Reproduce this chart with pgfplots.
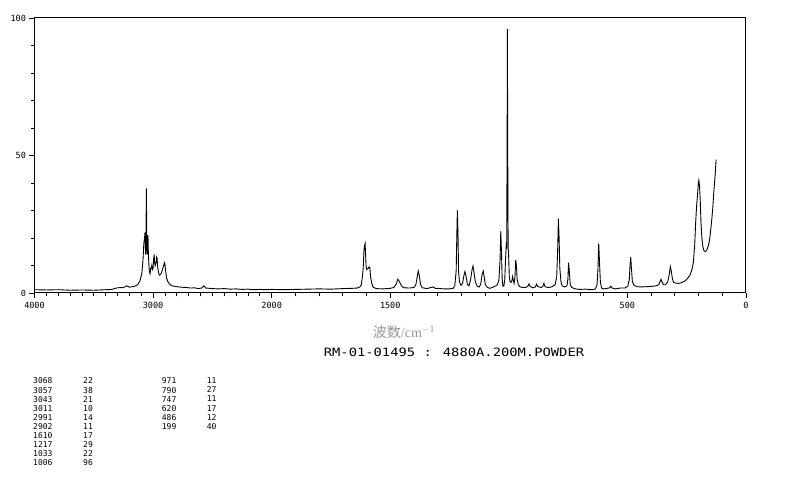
\documentclass[border=0pt]{standalone}
\usepackage{pgfplots}
\pgfplotsset{compat=1.18}
\usepackage{fontspec}
\setmainfont{Liberation Serif}
\newfontfamily\dotfont{DejaVu Sans Mono}
\newfontfamily\titlefont[FakeStretch=1.2]{DejaVu Sans Mono}
\newfontfamily\cjk{Noto Sans CJK SC}
\definecolor{labelgray}{RGB}{150,150,150}
\begin{document}
\begin{tikzpicture}
\path[use as bounding box] (0,0) rectangle (794bp,482bp);
\begin{axis}[
  at={(34.5bp,189bp)}, anchor=south west,
  scale only axis, width=711.5bp, height=275bp,
  x coord trafo/.code={\pgfmathparse{#1>2000 ? 1000+0.5*#1 : #1}},
  x dir=reverse,
  xmin=0, xmax=4000, ymin=0, ymax=100,
  xtick={0,500,1500,2000,3000,4000},
  xticklabels={0,500,1500,2000,3000,4000},
  minor xtick={100,200,300,400,600,700,800,900,1000,1100,1200,1300,1400,1600,1700,1800,1900,2100,2200,2300,2400,2500,2600,2700,2800,2900,3100,3200,3300,3400,3500,3600,3700,3800,3900},
  ytick={0,50,100},
  yticklabels={0,50,100},
  minor ytick={10,20,30,40,60,70,80,90},
  tick align=outside, tick pos=left,
  major tick length=5bp, minor tick length=3.5bp,
  every tick/.style={black, line width=0.7bp},
  axis line style={black, line width=1bp},
  tick label style={font=\dotfont\fontsize{8.5bp}{9bp}\selectfont},
  xticklabel style={yshift=-1bp},
  clip=false,
]
\addplot[black, line width=0.9bp] coordinates {
(4000,1.2) (3900,1.1) (3800,1.2) (3700,1.0) (3600,1.1) (3500,1.0) (3400,1.2) (3350,1.3)
(3300,1.9) (3250,2.0) (3220,2.6) (3200,2.1) (3160,2.4) (3130,3.0) (3110,4.5) (3095,7)
(3085,12) (3078,18) (3072,20) (3068,22) (3065,17) (3062,14) (3059,20) (3057,38) (3055,30)
(3052,16) (3049,14) (3046,18) (3043,21) (3040,15) (3036,11) (3032,8) (3026,7) (3020,9)
(3016,9) (3011,10) (3006,8.5) (3000,9) (2996,12) (2991,14) (2987,11) (2982,10) (2975,11)
(2970,13) (2966,12.5) (2960,9) (2952,7) (2944,6.5) (2936,6.8) (2928,7.5) (2918,9) (2910,10)
(2904,11) (2900,10.5) (2894,8) (2886,5.5) (2876,4.2) (2860,3.2) (2840,2.6) (2800,2.3)
(2760,2.1) (2720,2.0) (2680,1.8) (2650,1.9) (2620,1.6) (2590,1.8) (2572,2.6) (2555,1.8)
(2500,1.6) (2450,1.5) (2400,1.6) (2350,1.4) (2300,1.5) (2250,1.3) (2200,1.4) (2150,1.2)
(2100,1.3) (2050,1.2) (2000,1.3) (1950,1.2) (1900,1.3) (1850,1.4) (1800,1.5) (1750,1.4)
(1700,1.6) (1660,1.7) (1640,1.8) (1628,2.2) (1622,3) (1618,5.5) (1614,9) (1611,15)
(1609,17) (1606,18) (1604,14) (1602,10) (1599,8.5) (1596,8.8) (1592,9) (1589,9.5)
(1586,9.2) (1583,6) (1578,3.5) (1573,2.2) (1560,1.6) (1530,1.5) (1500,1.7) (1485,2.0)
(1475,3.2) (1468,5) (1462,4.2) (1455,3) (1448,2.2) (1440,1.9) (1420,1.8) (1400,2)
(1392,3) (1386,6) (1382,8) (1378,6.5) (1372,3) (1365,1.9) (1345,1.6) (1320,2.2)
(1310,1.7) (1290,1.6) (1270,1.5) (1250,1.5) (1235,1.7) (1228,2.5) (1222,8) (1219,22)
(1217,30) (1214,20) (1212,8) (1208,4) (1202,2.8) (1195,3.5) (1189,6.5) (1185,7.8)
(1180,6) (1175,3.2) (1168,2.6) (1161,5) (1155,8.5) (1151,9.8) (1147,7.5) (1141,4)
(1133,2.4) (1124,2.2) (1118,3.5) (1113,6.5) (1108,8) (1104,6) (1099,3) (1090,2.0)
(1080,1.7) (1070,2) (1060,2.4) (1050,2.8) (1042,4.5) (1037,12) (1034,22.5) (1031,15)
(1028,5) (1025,2.5) (1021,2.5) (1017,5) (1014,12) (1011,17) (1009,16) (1007,60)
(1006,96) (1005,60) (1003,17) (1001,14) (998,6) (995,4.2) (991,3.8) (987,4.5) (984,6)
(981,4.5) (978,3.5) (974,6) (971,12) (968,10) (965,5) (960,3) (952,2.2) (940,2)
(925,2.1) (919,2.6) (915,3.3) (910,2.4) (900,1.9) (888,2.2) (883,3.2) (878,2.4)
(865,2) (857,2.3) (852,3.5) (847,2.3) (835,2) (820,2.2) (805,3) (798,6) (794,16)
(791,27) (788,20) (785,9) (780,4) (775,2.6) (765,2.2) (755,2.6) (751,5) (748,11)
(745,8) (741,3) (735,2) (720,1.5) (700,1.3) (680,1.4) (660,1.3) (645,1.2) (635,1.5)
(628,3) (624,9) (621,18) (618,12) (614,4) (609,1.8) (600,1.5) (590,1.6) (575,1.9)
(570,2.5) (565,1.8) (550,1.5) (530,1.8) (510,1.8) (498,2.5) (492,5) (489,10) (486,13)
(483,9) (479,4) (472,2.8) (460,2.3) (440,2.2) (420,2.3) (400,2.4) (380,2.6) (368,3)
(362,4.2) (358,5) (354,4) (348,3) (340,3) (330,4) (323,7) (319,9.6) (315,8) (310,5)
(305,3.8) (295,3.6) (285,3.5) (270,3.8) (255,4.5) (245,5.5) (236,6.5) (228,8.5)
(222,11) (216,18) (212,26) (208,32) (204,36) (201,40) (199,41) (196,39) (193,34)
(190,26) (186,20) (182,17) (178,15.5) (172,15) (166,15.5) (160,16.8) (154,19)
(150,22) (145,26) (140,31) (135,37.5) (130,43) (126,48.5)
};
\end{axis}
\node[anchor=base, inner sep=0, text=labelgray, font=\fontsize{14bp}{16bp}\selectfont] at (404bp,144bp) {{\cjk 波数}/cm$^{\mathrm{-1}}$};
\node[anchor=base, inner sep=0, font=\titlefont\fontsize{11.5bp}{13bp}\selectfont] at (454bp,125bp) {RM-01-01495 : 4880A.200M.POWDER};
\begin{scope}[every node/.style={anchor=north west, inner sep=0, align=left, font=\dotfont\fontsize{8bp}{9.07bp}\selectfont}]
\node at (33bp,104.2bp) {3068\\3057\\3043\\3011\\2991\\2902\\1610\\1217\\1033\\1006};
\node at (83bp,104.2bp) {22\\38\\21\\10\\14\\11\\17\\29\\22\\96};
\node at (161.7bp,104.2bp) {971\\790\\747\\620\\486\\199};
\node at (206.7bp,104.2bp) {11\\27\\11\\17\\12\\40};
\end{scope}
\end{tikzpicture}
\end{document}
